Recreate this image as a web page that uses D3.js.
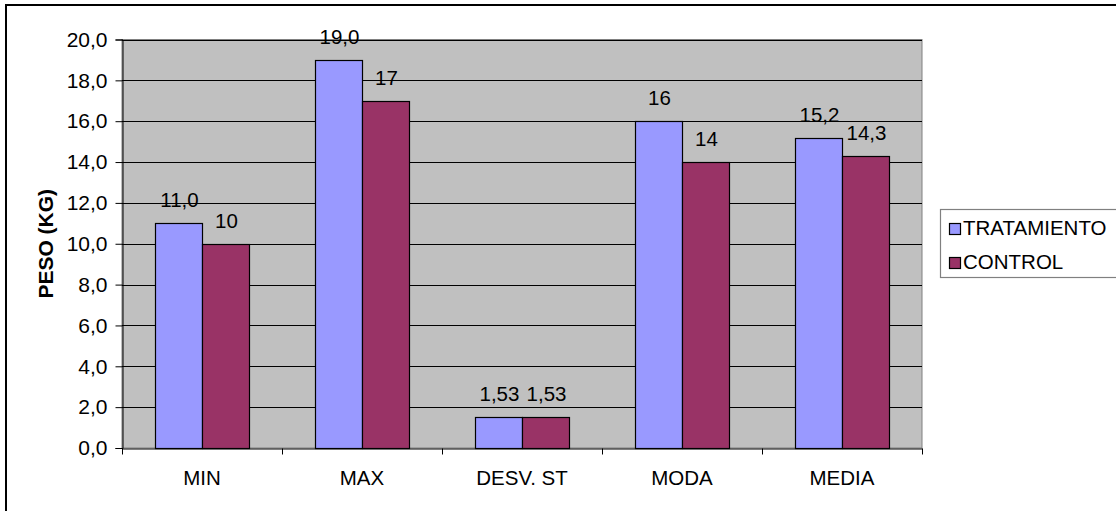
<!DOCTYPE html>
<html>
<head>
<meta charset="utf-8">
<script src="https://cdn.jsdelivr.net/npm/d3@7"></script>
<style>
  html, body { margin: 0; padding: 0; background: #fff; }
  svg { display: block; font-family: Arial, "Liberation Sans", sans-serif; }
</style>
</head>
<body>
<svg id="chart" width="1116" height="511"></svg>
<script>
// Weight statistics per group
const categories = ["MIN", "MAX", "DESV. ST", "MODA", "MEDIA"];
const seriesNames = ["TRATAMIENTO", "CONTROL"];
const tratamiento = [11.0, 19.0, 1.53, 16, 15.2];
const control = [10, 17, 1.53, 14, 14.3];
// decimals shown in each value label
const tratamientoDecimals = [1, 1, 2, 0, 1];
const controlDecimals = [0, 0, 2, 0, 1];
const yTicks = [0, 2, 4, 6, 8, 10, 12, 14, 16, 18, 20];
const colors = ["#9999FF", "#993366"];

const FS = 20.5;

const locale = d3.formatLocale({ decimal: ",", thousands: ".", grouping: [3], currency: ["", ""] });
const fmt = d => locale.format("." + d + "f");

const svg = d3.select("#chart");

// outer chart frame
svg.append("rect")
  .attr("x", 6).attr("y", 5).attr("width", 1130).attr("height", 520)
  .attr("fill", "#fff").attr("stroke", "#000").attr("stroke-width", 2);

const plot = { left: 122, top: 39.5, right: 922, bottom: 448 };

const x = d3.scaleBand().domain(categories).range([plot.left, plot.right]);
const xs = d3.scaleBand().domain(seriesNames).range([0, x.bandwidth()]).paddingInner(0).paddingOuter(0.7);
const y = d3.scaleLinear().domain([0, 20]).range([plot.bottom, plot.top]);

// plot background
svg.append("rect")
  .attr("x", plot.left).attr("y", plot.top)
  .attr("width", plot.right - plot.left).attr("height", plot.bottom - plot.top)
  .attr("fill", "#C0C0C0").attr("stroke", "#808080").attr("stroke-width", 1);

// horizontal gridlines
svg.append("g").selectAll("line")
  .data(yTicks.filter(t => t > 0))
  .join("line")
  .attr("x1", plot.left).attr("x2", plot.right)
  .attr("y1", d => Math.round(y(d)) + 0.5).attr("y2", d => Math.round(y(d)) + 0.5)
  .attr("stroke", "#000").attr("stroke-width", 1);

// bars
const data = categories.map((c, i) => ({
  cat: c,
  vals: [
    { s: seriesNames[0], v: tratamiento[i], dec: tratamientoDecimals[i], color: colors[0] },
    { s: seriesNames[1], v: control[i], dec: controlDecimals[i], color: colors[1] }
  ]
}));

const groups = svg.append("g").selectAll("g")
  .data(data).join("g")
  .attr("transform", d => `translate(${x(d.cat)},0)`);

groups.selectAll("rect")
  .data(d => d.vals).join("rect")
  .attr("x", d => Math.round(xs(d.s)) + 0.5)
  .attr("y", d => Math.round(y(d.v)) + 0.5)
  .attr("width", Math.round(xs.bandwidth()))
  .attr("height", d => Math.round(y(0)) - Math.round(y(d.v)))
  .attr("fill", d => d.color)
  .attr("stroke", "#000").attr("stroke-width", 1.2);

groups.selectAll("text")
  .data(d => d.vals).join("text")
  .attr("x", d => xs(d.s) + xs.bandwidth() / 2 + 1)
  .attr("y", d => y(d.v) - 16)
  .attr("text-anchor", "middle")
  .attr("font-size", FS)
  .attr("fill", "#000")
  .text(d => fmt(d.dec)(d.v));

// y axis
const yAxis = d3.axisLeft(y).tickValues(yTicks).tickSize(7).tickPadding(8)
  .tickFormat(d => fmt(1)(d));
const gy = svg.append("g").attr("transform", `translate(${plot.left + 0.5},0)`).call(yAxis);
gy.select(".domain").attr("stroke", "#000");
gy.selectAll(".tick line").attr("stroke", "#000");
gy.selectAll(".tick text").attr("font-size", 21).attr("fill", "#000").attr("font-family", null);

// x axis
const xAxis = d3.axisBottom(x).tickSize(0).tickPadding(22);
const gx = svg.append("g").attr("transform", `translate(0,${plot.bottom + 0.5})`).call(xAxis);
gx.select(".domain").attr("stroke", "#000");
gx.selectAll(".tick text").attr("font-size", FS).attr("fill", "#000").attr("font-family", null);
// category boundary ticks
gx.append("g").selectAll("line")
  .data(d3.range(categories.length + 1))
  .join("line")
  .attr("x1", i => Math.round(plot.left + i * x.step()) + 0.5)
  .attr("x2", i => Math.round(plot.left + i * x.step()) + 0.5)
  .attr("y1", 0).attr("y2", 6)
  .attr("stroke", "#000");

// y axis title
svg.append("text")
  .attr("transform", `translate(53,${(plot.top + plot.bottom) / 2}) rotate(-90)`)
  .attr("text-anchor", "middle")
  .attr("font-size", 21).attr("font-weight", "bold")
  .text("PESO (KG)");

// legend
const legend = svg.append("g");
legend.append("rect")
  .attr("x", 940.5).attr("y", 209.5).attr("width", 200).attr("height", 68)
  .attr("fill", "#fff").attr("stroke", "#808080").attr("stroke-width", 1.2);
const items = legend.selectAll("g.item")
  .data(seriesNames).join("g").attr("class", "item")
  .attr("transform", (d, i) => `translate(949,${223 + i * 34})`);
items.append("rect")
  .attr("x", 0.5).attr("y", 0.5).attr("width", 11).attr("height", 11)
  .attr("fill", (d, i) => colors[i]).attr("stroke", "#000").attr("stroke-width", 1.2);
items.append("text")
  .attr("x", 14).attr("y", 12)
  .attr("font-size", FS).attr("fill", "#000")
  .text(d => d);
</script>
</body>
</html>
